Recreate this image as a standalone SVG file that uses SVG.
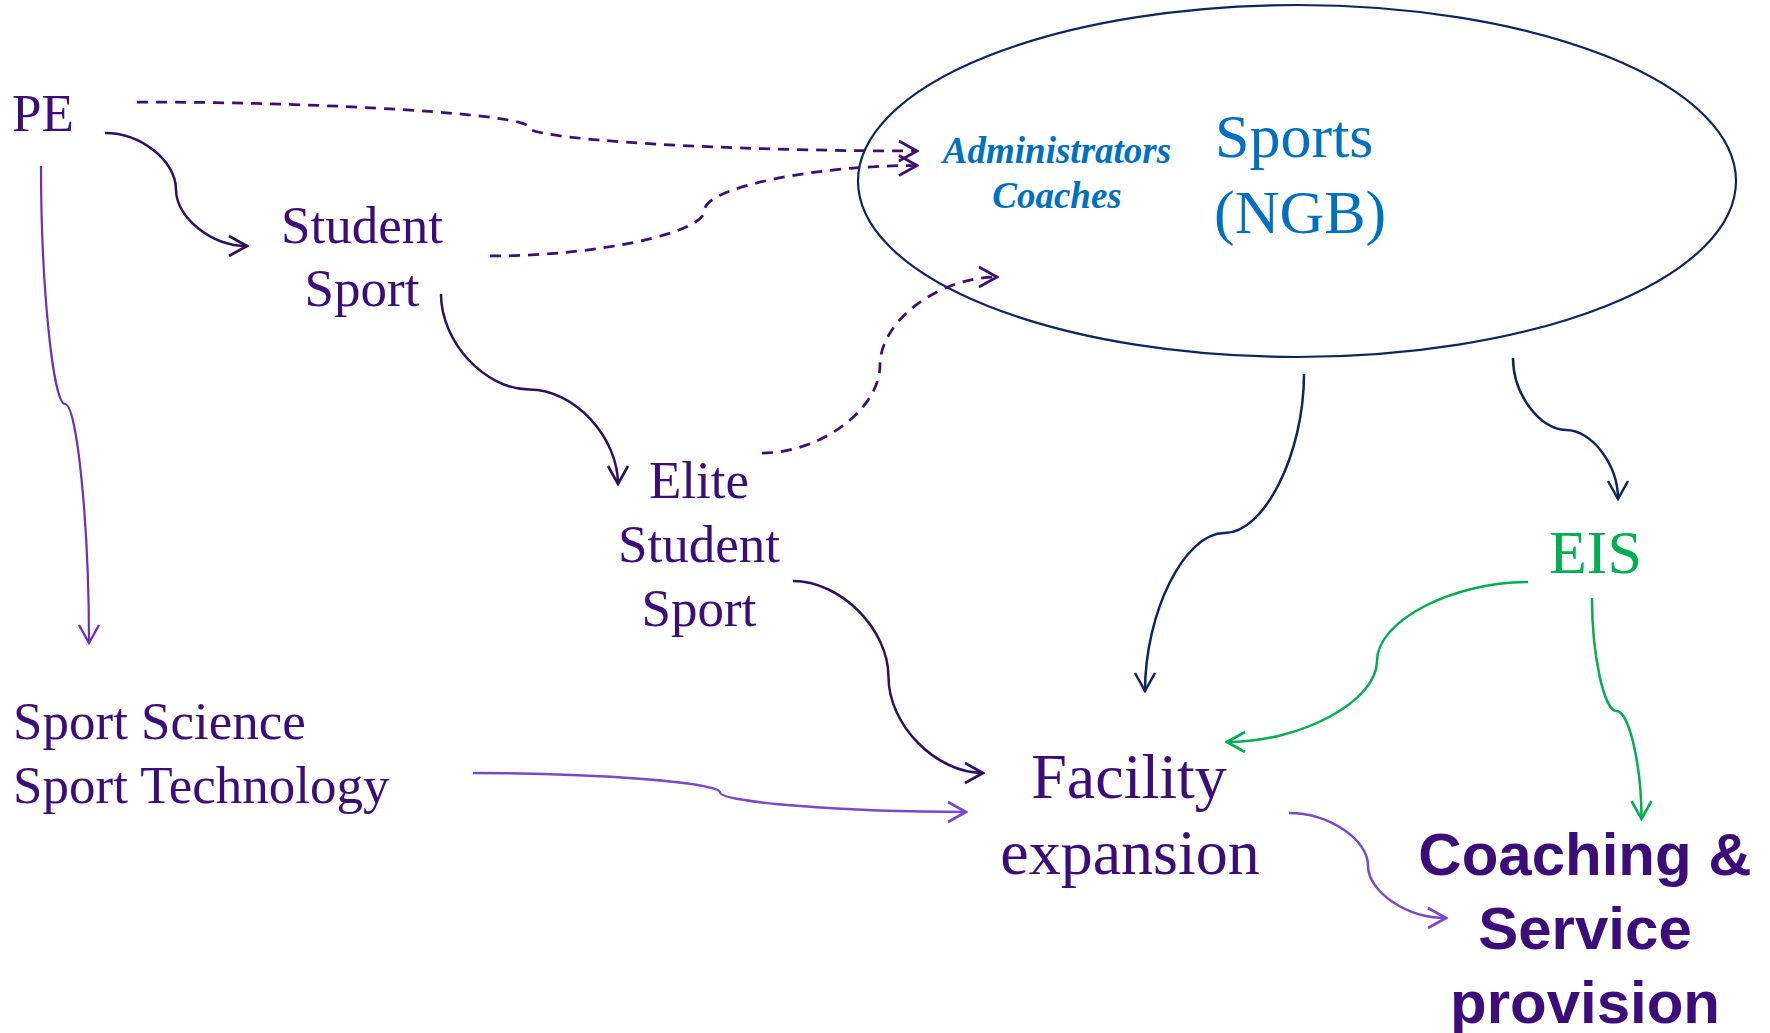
<svg xmlns="http://www.w3.org/2000/svg" width="1770" height="1033" viewBox="0 0 1770 1033">
<style>
.serif{font-family:"Liberation Serif","Times New Roman",serif;}
.pt{fill:#3c0c78;font-size:53px;}
.blue{fill:#0070c0;}
.c{fill:none;stroke-width:2.5;}
.dash{stroke-dasharray:11 8;stroke-width:2.75;}
.dk{stroke:#2e1060;}
.dp{stroke:#3d0f72;}
.br{stroke:#6f2dbd;stroke-width:2.2;}
.lt{stroke:#7a48c8;}
.nv{stroke:#0c2660;}
.gr{stroke:#00b050;}
</style>
<defs>
<marker id="aDk" markerUnits="userSpaceOnUse" viewBox="-21 -12 23 24" refX="0" refY="0" markerWidth="23" markerHeight="24" orient="auto"><path d="M-18,-10 L0,0 L-18,10" fill="none" stroke="#2e1060" stroke-width="2.6" stroke-dasharray="none"/></marker>
<marker id="aDp" markerUnits="userSpaceOnUse" viewBox="-21 -12 23 24" refX="0" refY="0" markerWidth="23" markerHeight="24" orient="auto"><path d="M-18,-10 L0,0 L-18,10" fill="none" stroke="#3d0f72" stroke-width="2.6" stroke-dasharray="none"/></marker>
<marker id="aBr" markerUnits="userSpaceOnUse" viewBox="-21 -12 23 24" refX="0" refY="0" markerWidth="23" markerHeight="24" orient="auto"><path d="M-18,-10 L0,0 L-18,10" fill="none" stroke="#6f2dbd" stroke-width="2.3"/></marker>
<marker id="aLt" markerUnits="userSpaceOnUse" viewBox="-21 -12 23 24" refX="0" refY="0" markerWidth="23" markerHeight="24" orient="auto"><path d="M-18,-10 L0,0 L-18,10" fill="none" stroke="#7a48c8" stroke-width="2.6"/></marker>
<marker id="aNv" markerUnits="userSpaceOnUse" viewBox="-21 -12 23 24" refX="0" refY="0" markerWidth="23" markerHeight="24" orient="auto"><path d="M-18,-10 L0,0 L-18,10" fill="none" stroke="#0c2660" stroke-width="2.5"/></marker>
<marker id="aGr" markerUnits="userSpaceOnUse" viewBox="-21 -12 23 24" refX="0" refY="0" markerWidth="23" markerHeight="24" orient="auto"><path d="M-18,-10 L0,0 L-18,10" fill="none" stroke="#00b050" stroke-width="2.6"/></marker>
</defs>
<rect width="1770" height="1033" fill="#ffffff"/>

<g id="ngb">
<ellipse cx="1297" cy="181" rx="439" ry="176" fill="none" stroke="#0c2660" stroke-width="2.2"/>
<text class="serif blue" font-size="62" x="1215" y="157">Sports</text>
<text class="serif blue" font-size="62" x="1214" y="233">(NGB)</text>
<text class="serif blue" font-size="37" font-weight="bold" font-style="italic" text-anchor="middle" x="1057" y="163">Administrators</text>
<text class="serif blue" font-size="37" font-weight="bold" font-style="italic" text-anchor="middle" x="1057" y="208">Coaches</text>
</g>

<g id="connectors">
<path class="c dash dp" d="M137,102 C332,102 528,114.5 528,127 C528,139.5 723,151 917,151" marker-end="url(#aDp)"/>
<path class="c dash dp" d="M490,256 C597,256 704.5,233 704.5,210.5 C704.5,188 812,165.5 917,165.5" marker-end="url(#aDp)"/>
<path class="c dash dp" d="M762,453 C821,453 880,409 880,365 C880,321 939,277 997,277" marker-end="url(#aDp)"/>
<path class="c dk" d="M105,133 C141,133 176,161 176,189.5 C176,218 212,246 247,246" marker-end="url(#aDk)"/>
<path class="c dk" d="M441,294 C441,342 485,389.5 529.5,389.5 C574,389.5 618,437 618,484" marker-end="url(#aDk)"/>
<path class="c dk" d="M793,581 C840.5,581 888.5,629 888.5,677 C888.5,725 936,773 983,773" marker-end="url(#aDk)"/>
<path class="c br" d="M41,166 C41,285 53,404 65,404 C77,404 89,524 89,643" marker-end="url(#aBr)"/>
<path class="c lt" d="M473,773 C596.5,773 720,782.5 720,792.5 C720,802 843.5,812 966,812" marker-end="url(#aLt)"/>
<path class="c lt" d="M1289,813 C1328,813 1368,839 1368,865.5 C1368,892 1407,918 1446,918" marker-end="url(#aLt)"/>
<path class="c nv" d="M1304,374 C1304,453.5 1264.5,533 1224.5,533 C1184.5,533 1145,612.5 1145,691" marker-end="url(#aNv)"/>
<path class="c nv" d="M1513,358 C1513,394 1540,430 1566,430 C1592,430 1618,465 1618,499" marker-end="url(#aNv)"/>
<path class="c gr" d="M1528,582 C1452,582 1377,621 1377,661 C1377,701 1302,742 1227,742" marker-end="url(#aGr)"/>
<path class="c gr" d="M1592,598 C1592,654.5 1604,711 1616.5,711 C1629,711 1641.5,765 1641.5,819" marker-end="url(#aGr)"/>
</g>

<g id="pe"><text class="serif pt" x="12" y="131">PE</text></g>

<g id="student-sport">
<text class="serif pt" text-anchor="middle" x="362" y="243">Student</text>
<text class="serif pt" text-anchor="middle" x="362" y="306">Sport</text>
</g>

<g id="elite-student-sport">
<text class="serif pt" text-anchor="middle" x="699" y="498">Elite</text>
<text class="serif pt" text-anchor="middle" x="699" y="562">Student</text>
<text class="serif pt" text-anchor="middle" x="699" y="626">Sport</text>
</g>

<g id="sport-science">
<text class="serif pt" x="13" y="739">Sport Science</text>
<text class="serif pt" x="13" y="803">Sport Technology</text>
</g>

<g id="eis"><text class="serif" fill="#00b050" font-size="62" x="1549" y="573">EIS</text></g>

<g id="facility">
<text class="serif" fill="#3c0c78" font-size="64" text-anchor="middle" x="1129" y="798">Facility</text>
<text class="serif" fill="#3c0c78" font-size="64" text-anchor="middle" x="1130" y="874">expansion</text>
</g>

<g id="coaching">
<text font-family="'Liberation Sans',Arial,sans-serif" font-weight="bold" fill="#3c0c78" font-size="60" text-anchor="middle" x="1585" y="875">Coaching &amp;</text>
<text font-family="'Liberation Sans',Arial,sans-serif" font-weight="bold" fill="#3c0c78" font-size="60" text-anchor="middle" x="1585" y="949">Service</text>
<text font-family="'Liberation Sans',Arial,sans-serif" font-weight="bold" fill="#3c0c78" font-size="60" text-anchor="middle" x="1585" y="1023">provision</text>
</g>
</svg>
